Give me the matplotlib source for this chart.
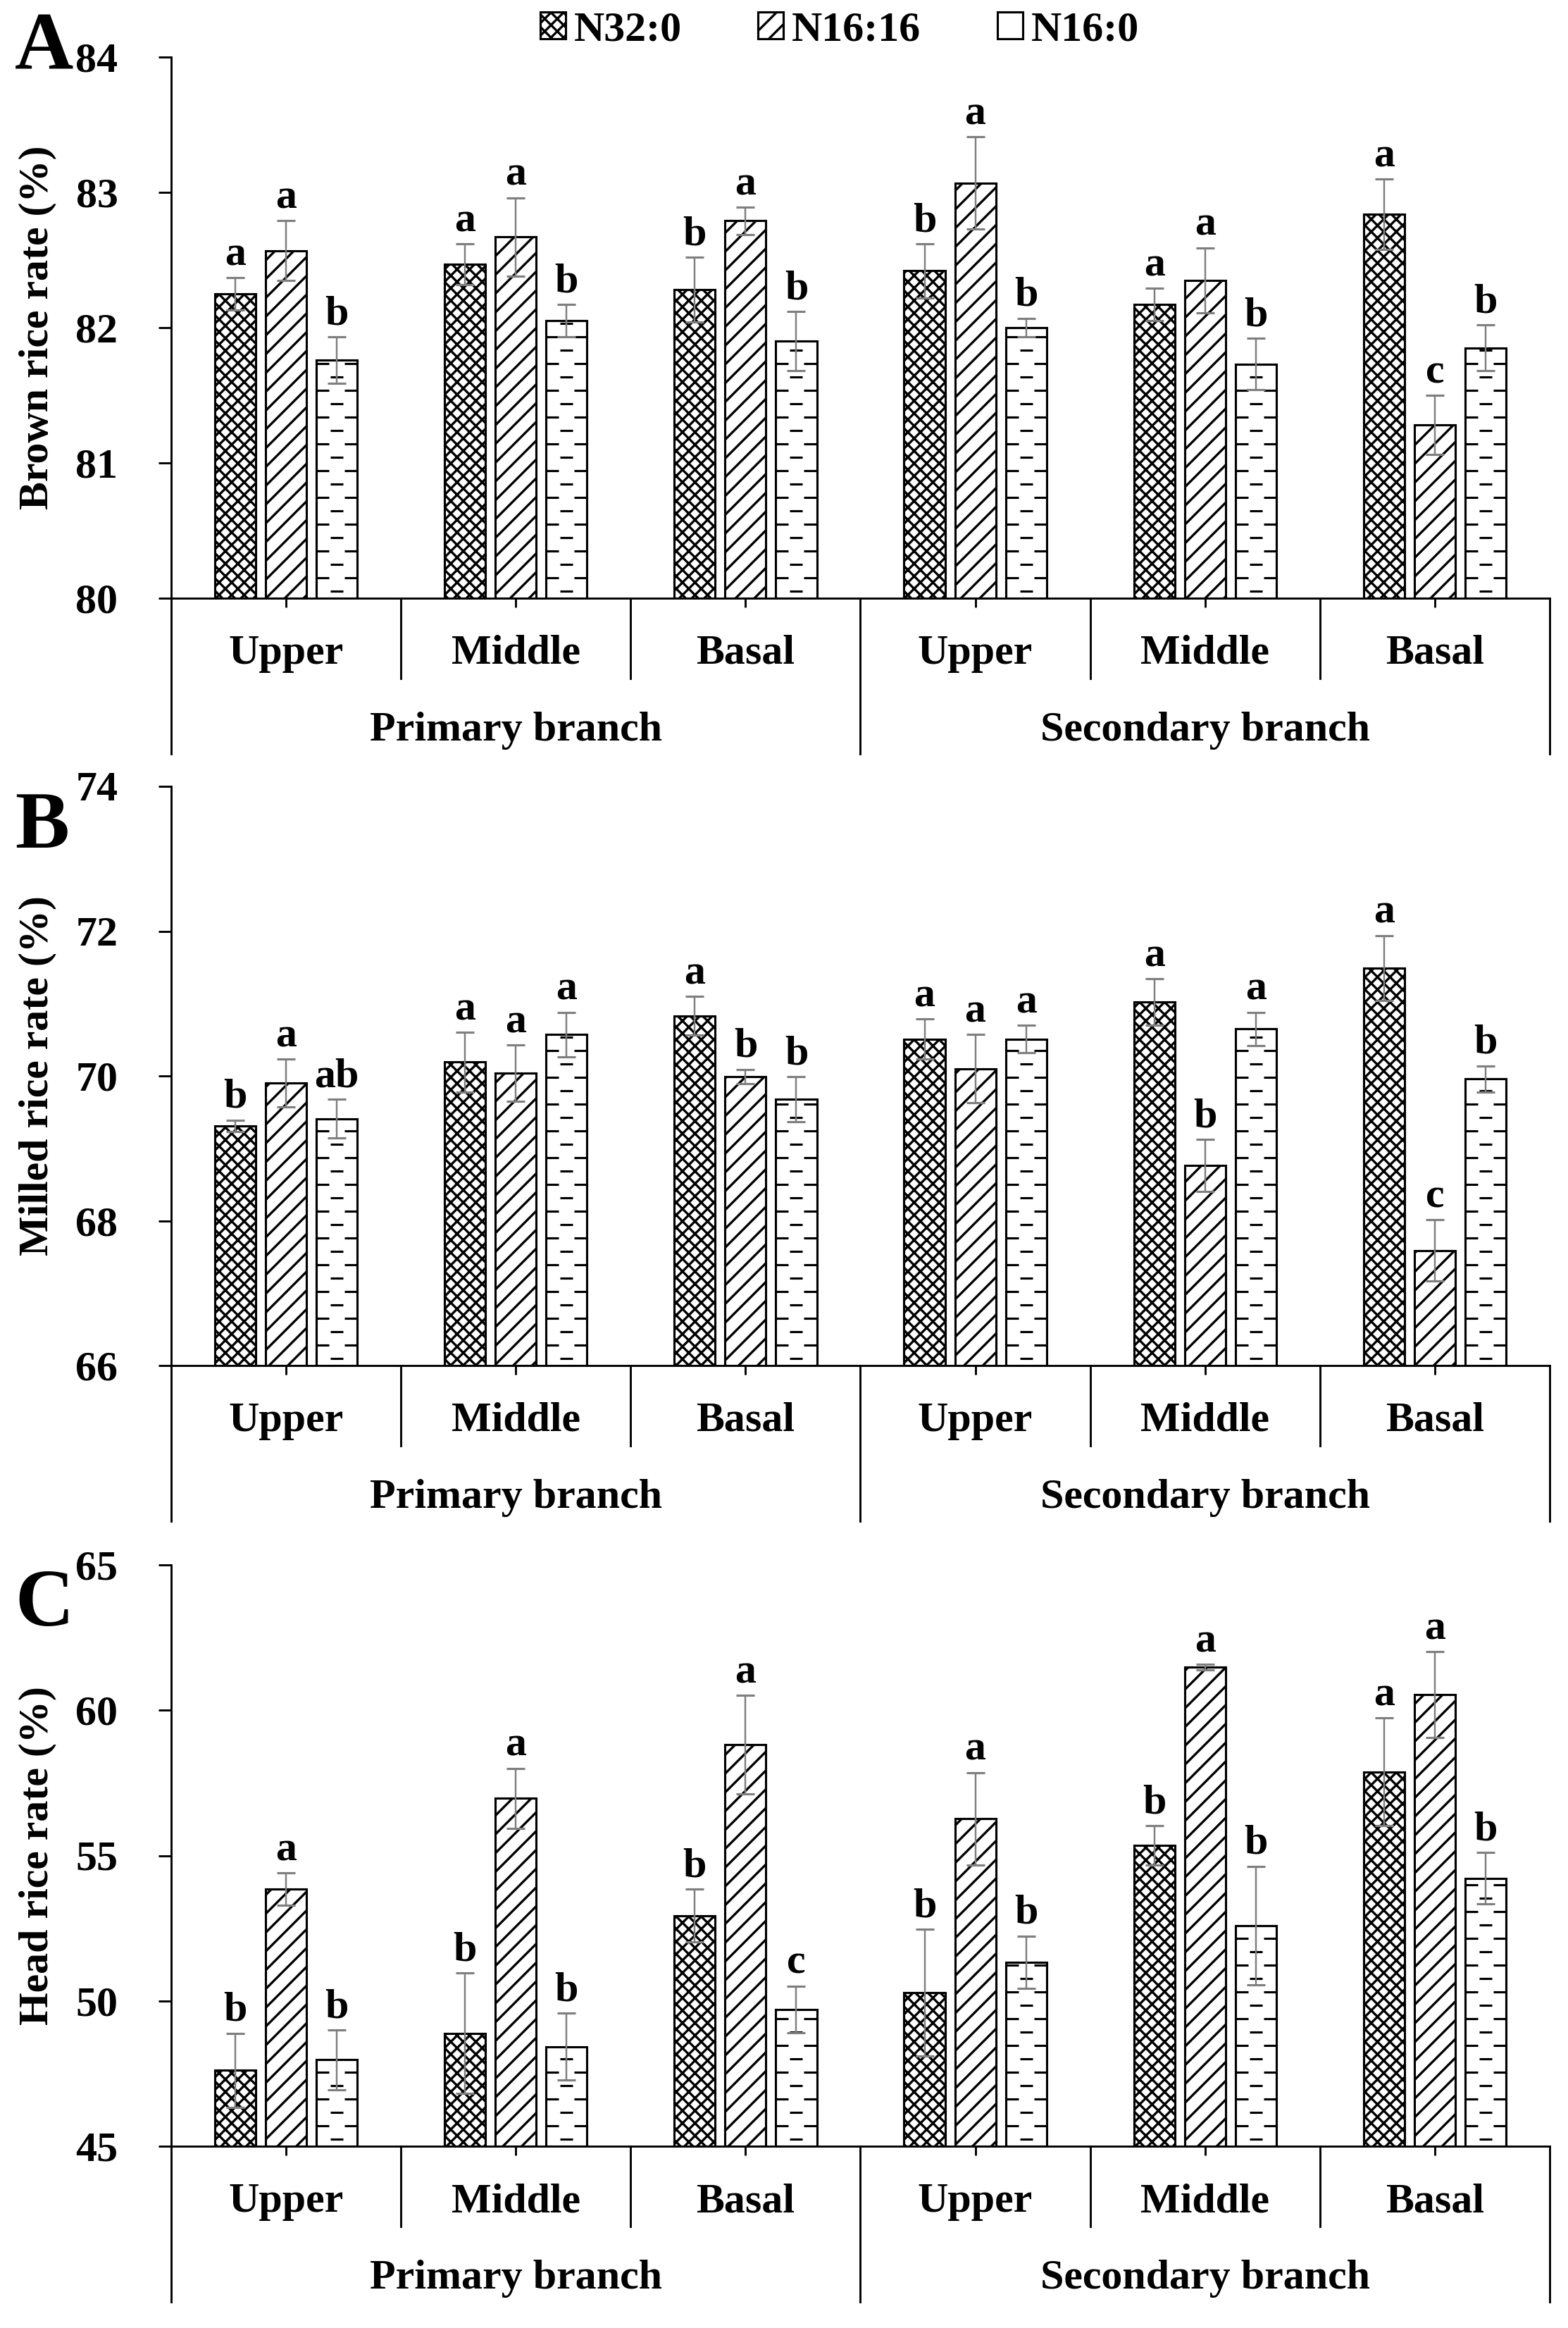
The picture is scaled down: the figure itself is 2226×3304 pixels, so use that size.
import numpy as np
import matplotlib
matplotlib.use("Agg")
import matplotlib.pyplot as plt
from matplotlib.collections import LineCollection
from matplotlib.patches import Patch

# data (mean, error, letters) per treatment
positions = ["Upper", "Middle", "Basal", "Upper", "Middle", "Basal"]
branches = ["Primary branch", "Secondary branch"]
treatments = ["N32:0", "N16:16", "N16:0"]

brown_n32 = [82.25, 82.47, 82.28, 82.42, 82.17, 82.84]
brown_n32_err = [0.12, 0.15, 0.24, 0.20, 0.12, 0.26]
brown_n1616 = [82.57, 82.67, 82.79, 83.07, 82.35, 81.28]
brown_n1616_err = [0.22, 0.29, 0.10, 0.34, 0.24, 0.22]
brown_n160 = [81.76, 82.05, 81.90, 82.00, 81.73, 81.85]
brown_n160_err = [0.17, 0.12, 0.22, 0.07, 0.19, 0.17]
brown_letters = [["a", "a", "b", "b", "a", "a"],
                 ["a", "a", "a", "a", "a", "c"],
                 ["b", "b", "b", "b", "b", "b"]]

milled_n32 = [69.31, 70.19, 70.83, 70.51, 71.02, 71.49]
milled_n32_err = [0.08, 0.41, 0.27, 0.28, 0.32, 0.45]
milled_n1616 = [69.90, 70.04, 69.99, 70.10, 68.76, 67.59]
milled_n1616_err = [0.33, 0.39, 0.10, 0.47, 0.36, 0.42]
milled_n160 = [69.41, 70.57, 69.68, 70.51, 70.65, 69.96]
milled_n160_err = [0.27, 0.31, 0.31, 0.19, 0.23, 0.18]
milled_letters = [["b", "a", "a", "a", "a", "a"],
                  ["a", "a", "b", "a", "b", "c"],
                  ["ab", "a", "b", "a", "a", "b"]]

head_n32 = [47.61, 48.89, 52.93, 50.28, 55.35, 57.88]
head_n32_err = [1.28, 2.07, 0.91, 2.18, 0.68, 1.85]
head_n1616 = [53.84, 56.97, 58.81, 56.27, 61.48, 60.54]
head_n1616_err = [0.56, 1.03, 1.70, 1.59, 0.10, 1.48]
head_n160 = [47.97, 48.43, 49.71, 51.33, 52.59, 54.22]
head_n160_err = [1.02, 1.14, 0.80, 0.90, 2.04, 0.88]
head_letters = [["b", "b", "b", "b", "b", "a"],
                ["a", "a", "a", "a", "a", "a"],
                ["b", "b", "c", "b", "b", "b"]]

DPI = 160
W, H = 2226, 3304

plt.rcParams["font.family"] = ["Liberation Serif", "DejaVu Serif"]
plt.rcParams["font.weight"] = "bold"
plt.rcParams["hatch.linewidth"] = 1.5

fig = plt.figure(figsize=(W / DPI, H / DPI), dpi=DPI)

AX_L, AX_R = 243, 2200
FS = 27

panels = [
    ("A", "Brown rice rate (%)", 81, 849, (80, 84), np.arange(80, 85, 1), 97,
     [brown_n32, brown_n1616, brown_n160],
     [brown_n32_err, brown_n1616_err, brown_n160_err], brown_letters),
    ("B", "Milled rice rate (%)", 1116, 1938, (66, 74), np.arange(66, 75, 2), 1203,
     [milled_n32, milled_n1616, milled_n160],
     [milled_n32_err, milled_n1616_err, milled_n160_err], milled_letters),
    ("C", "Head rice rate (%)", 2221, 3046, (45, 65), np.arange(45, 66, 5), 2307,
     [head_n32, head_n1616, head_n160],
     [head_n32_err, head_n1616_err, head_n160_err], head_letters),
]

hatches = ["xxx", "//", ""]
offsets = [-0.221, 0.0, 0.221]
bar_w = 0.178


def dash_fill(ax, rect, sx, sy):
    # staggered short horizontal dashes inside a bar (N16:0 pattern)
    x0 = rect.get_x()
    cx = x0 + rect.get_width() / 2
    y0 = rect.get_y()
    top = y0 + rect.get_height()
    segs = []
    y = y0 + 10 / sy
    k = 0
    while y < top - 3 / sy:
        off = 0 if k % 2 == 0 else 20
        for n in range(-2, 3):
            c = cx + (off + 40 * n) / sx
            segs.append([(c - 9 / sx, y), (c + 9 / sx, y)])
        y += 19 / sy
        k += 1
    lc = LineCollection(segs, colors="black", linewidths=1.4, zorder=2.5)
    ax.add_collection(lc)
    lc.set_clip_path(rect)


x = np.arange(len(positions))

for letter, ylabel, top_px, bot_px, ylim, yticks, let_base, means, errs, sig in panels:
    ax_h = bot_px - top_px
    ax = fig.add_axes([AX_L / W, 1 - bot_px / H, (AX_R - AX_L) / W, ax_h / H])
    ax.set_xlim(-0.5, 5.5)
    ax.set_ylim(*ylim)
    sx = (AX_R - AX_L) / 6.0
    sy = ax_h / (ylim[1] - ylim[0])

    for i in range(3):
        vals = np.array(means[i])
        bars = ax.bar(x + offsets[i], vals - ylim[0], bottom=ylim[0], width=bar_w,
                      color="white", edgecolor="black", linewidth=1.4,
                      hatch=hatches[i], zorder=2)
        if i == 2:
            for b in bars:
                dash_fill(ax, b, sx, sy)
        ax.errorbar(x + offsets[i], vals, yerr=errs[i], fmt="none",
                    ecolor="#7f7f7f", elinewidth=1.1, capsize=6, capthick=1.4,
                    zorder=3)
        for j in range(len(x)):
            ax.annotate(sig[i][j], (x[j] + offsets[i], vals[j] + errs[i][j]),
                        xytext=(0, 8), textcoords="offset points",
                        ha="center", va="baseline", fontsize=FS, fontweight="bold")

    for s in ["top", "right"]:
        ax.spines[s].set_visible(False)
    ax.spines["left"].set_linewidth(1.3)
    ax.spines["bottom"].set_linewidth(1.3)
    ax.set_yticks(yticks)
    ax.set_yticklabels([str(t) for t in yticks])
    ax.tick_params(axis="y", direction="out", length=8, width=1.3,
                   labelsize=FS, pad=26)
    ax.set_xticks(x)
    ax.set_xticklabels([])
    ax.tick_params(axis="x", direction="out", length=6, width=1.3)

    # two-level category axis
    tr = ax.get_xaxis_transform()
    short = -114 / ax_h
    long_ = -221 / ax_h
    for xb in [0.5, 1.5, 3.5, 4.5]:
        ax.plot([xb, xb], [0, short], transform=tr, color="black", lw=1.3,
                clip_on=False)
    for xb in [-0.5, 2.5, 5.5]:
        ax.plot([xb, xb], [0, long_], transform=tr, color="black", lw=1.3,
                clip_on=False)
    for j, p in enumerate(positions):
        ax.text(x[j], -79 / ax_h, p, transform=tr, ha="center", va="center",
                fontsize=FS, fontweight="bold")
    for k, b in enumerate(branches):
        ax.text(1 + 3 * k, -188 / ax_h, b, transform=tr, ha="center",
                va="center", fontsize=FS, fontweight="bold")

    fig.text(53 / W, 1 - (top_px + bot_px) / 2 / H, ylabel, rotation=90,
             ha="center", va="center", fontsize=FS, fontweight="bold")
    fig.text(21 / W, 1 - let_base / H, letter, ha="left", va="baseline",
             fontsize=52, fontweight="bold")

handles = [Patch(facecolor="white", edgecolor="black", hatch=hatches[i],
                 linewidth=1.4, label=treatments[i]) for i in range(3)]
fig.legend(handles=handles, loc="center", bbox_to_anchor=(1192 / W, 1 - 43 / H),
           ncol=3, frameon=False, fontsize=FS, handlelength=0.6,
           handleheight=0.6, handletextpad=0.2, columnspacing=1.8,
           borderpad=0, prop={"weight": "bold", "size": FS})

fig.savefig("out.png", dpi=DPI)
